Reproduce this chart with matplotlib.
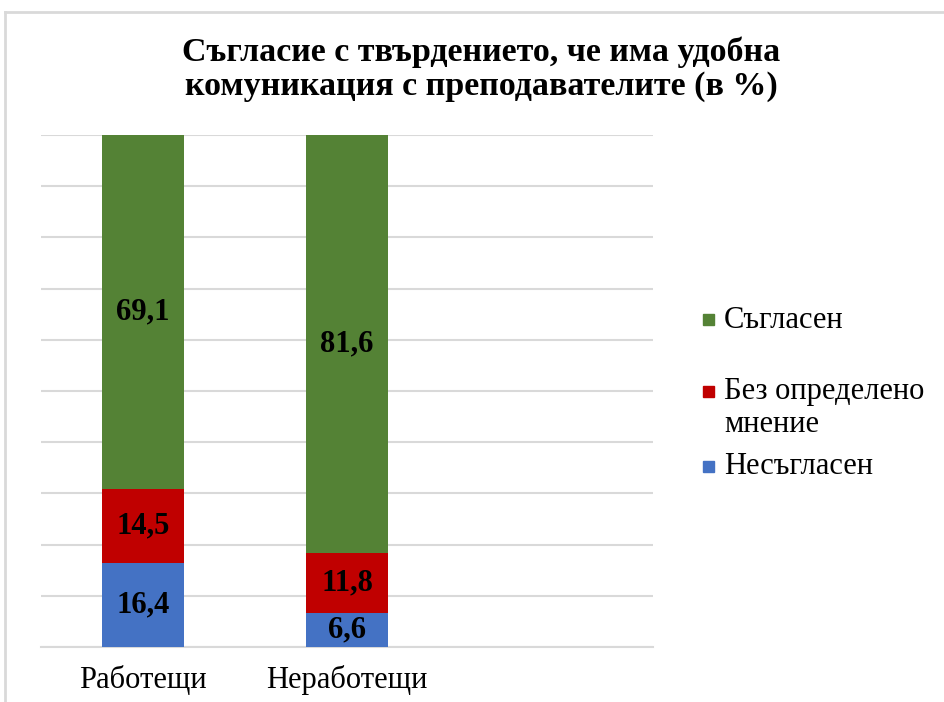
import matplotlib.pyplot as plt
from matplotlib.patches import Rectangle
from matplotlib.lines import Line2D

# ---- data ----
groups = ["Работещи", "Неработещи", ""]
disagree = [16.4, 6.6]
no_opinion = [14.5, 11.8]
agree = [69.1, 81.6]
series_names = ["Несъгласен", "Без определено\nмнение", "Съгласен"]
colors = ["#4472C4", "#C00000", "#548235"]
title = "Съгласие с твърдението, че има удобна\nкомуникация с преподавателите (в %)"

plt.rcParams['font.family'] = ['Liberation Serif', 'DejaVu Serif']

fig = plt.figure(figsize=(9.45, 7.02), dpi=100)
ax = fig.add_axes([41 / 945, 1 - 647 / 702, (653 - 41) / 945, (647 - 135) / 702])

x = list(range(len(groups)))
bottom = [0.0, 0.0]
for vals, col in zip([disagree, no_opinion, agree], colors):
    bars = ax.bar(x[:2], vals, width=0.4, bottom=bottom, color=col, zorder=3)
    for b, v, b0 in zip(bars, vals, bottom):
        ax.text(b.get_x() + b.get_width() / 2, b0 + v / 2, ("%.1f" % v).replace(".", ","),
                ha="center", va="center", fontsize=22, fontweight="bold", color="black", zorder=4)
    bottom = [a + b for a, b in zip(bottom, vals)]

ax.set_xlim(-0.5, 2.5)
ax.set_ylim(0, 100)
ax.set_yticks(range(0, 101, 10))
ax.set_yticklabels([])
ax.tick_params(axis="y", length=0)
ax.tick_params(axis="x", length=0, labelsize=22, pad=13)
ax.set_xticks(x)
ax.set_xticklabels(groups)
ax.grid(axis="y", color="#d9d9d9", linewidth=1.5, zorder=0)
for s in ["top", "right", "left"]:
    ax.spines[s].set_visible(False)
ax.spines["bottom"].set_color("#d9d9d9")
ax.spines["bottom"].set_linewidth(1.5)

fig.text(481 / 945, 1 - 69 / 702, title, ha="center", va="center", fontsize=24.5,
         fontweight="bold", linespacing=1.12)

# legend, top entry first
legend_y = [467, 392, 320]
for name, col, yy in zip(series_names, colors, legend_y):
    fig.patches.append(Rectangle((703 / 945, 1 - (yy + 5) / 702), 11 / 945, 11 / 702,
                                 transform=fig.transFigure, color=col))
    for k, line in enumerate(name.split("\n")):
        fig.text(724 / 945, 1 - (yy + 33 * k) / 702, line, ha="left", va="center",
                 fontsize=22)

# outer frame
fig.lines.append(Line2D([5 / 945, 1], [1 - 12 / 702] * 2, transform=fig.transFigure,
                        color="#d9d9d9", linewidth=2))
fig.lines.append(Line2D([5 / 945] * 2, [0, 1 - 12 / 702], transform=fig.transFigure,
                        color="#d9d9d9", linewidth=2))

fig.savefig("out.png", dpi=100)
